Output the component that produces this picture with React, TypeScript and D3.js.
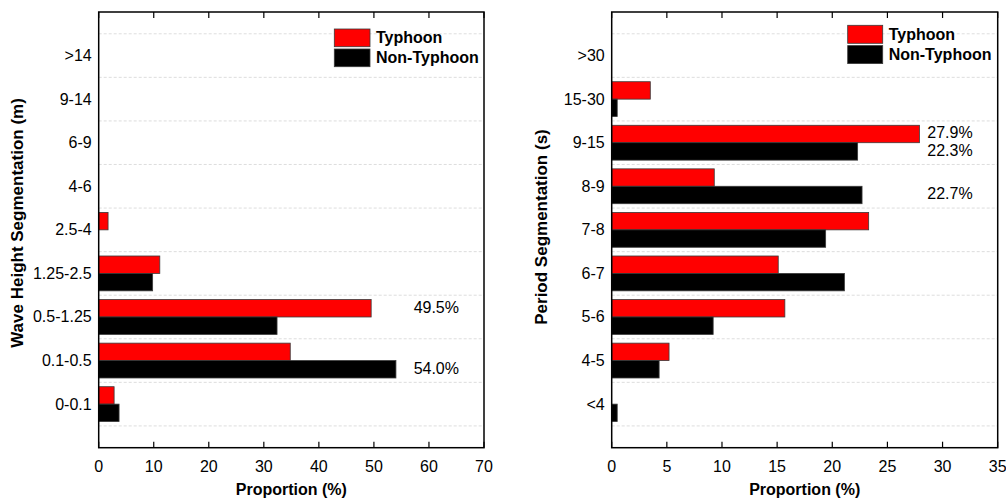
import React from "react";
import * as d3 from "d3";

// ---- Data ----
const waveCategories = [">14", "9-14", "6-9", "4-6", "2.5-4", "1.25-2.5", "0.5-1.25", "0.1-0.5", "0-0.1"];
const waveTyphoon = [0, 0, 0, 0, 1.7, 11.1, 49.5, 34.8, 2.8];
const waveNonTyphoon = [0, 0, 0, 0, 0, 9.8, 32.4, 54.0, 3.7];
const waveTicks = [0, 10, 20, 30, 40, 50, 60, 70];

const periodCategories = [">30", "15-30", "9-15", "8-9", "7-8", "6-7", "5-6", "4-5", "<4"];
const periodTyphoon = [0, 3.5, 27.9, 9.3, 23.3, 15.1, 15.7, 5.2, 0];
const periodNonTyphoon = [0, 0.5, 22.3, 22.7, 19.4, 21.1, 9.2, 4.3, 0.5];
const periodTicks = [0, 5, 10, 15, 20, 25, 30, 35];

const seriesNames = ["Typhoon", "Non-Typhoon"];
const seriesColors = ["#ff0000", "#000000"];

const waveNotes = [
  { cat: "0.5-1.25", series: 0, text: "49.5%" },
  { cat: "0.1-0.5", series: 1, text: "54.0%" },
];
const periodNotes = [
  { cat: "9-15", series: 0, text: "27.9%" },
  { cat: "9-15", series: 1, text: "22.3%" },
  { cat: "8-9", series: 1, text: "22.7%" },
];

const FONT = "'Liberation Sans', Arial, sans-serif";

type Note = { cat: string; series: number; text: string };

function Panel(props: {
  left: number; right: number; top: number; bottom: number;
  categories: string[]; typhoon: number[]; nonTyphoon: number[];
  ticks: number[]; notes: Note[]; yTitle: string; yTitleX: number; yTitleY: number;
  legendX: number; legendY: number; legendW: number; legendH: number;
}) {
  const { left, right, top, bottom, categories, typhoon, nonTyphoon, ticks, notes } = props;
  const n = categories.length;
  const x = d3.scaleLinear().domain([ticks[0], ticks[ticks.length - 1]]).range([left, right]);
  const y = d3.scaleLinear().domain([0, n + 1]).range([bottom, top]);
  const unit = Math.abs(y(0) - y(1));
  const barH = unit * 0.4;
  const catY = (i: number) => y(n - i);
  const grid = d3.range(n + 1).map((k) => k + 0.5);
  const series = [typhoon, nonTyphoon];
  const tickLen = 6;
  return (
    <g>
      {grid.map((g) => (
        <line key={"g" + g} x1={left} x2={right} y1={y(g)} y2={y(g)}
          stroke="#d4d4d4" strokeWidth={0.8} strokeDasharray="3,2" />
      ))}
      {categories.map((c, i) => (
        <g key={c}>
          {series.map((s, si) => s[i] > 0 ? (
            <rect key={si} x={x(0)} width={x(s[i]) - x(0)}
              y={catY(i) - barH + si * barH} height={barH}
              fill={seriesColors[si]} stroke="#3a3a3a" strokeWidth={0.8} />
          ) : null)}
          <text x={left - 7} y={catY(i)} textAnchor="end" dominantBaseline="central"
            fontFamily={FONT} fontSize={16} fill="#000">{c}</text>
        </g>
      ))}
      {notes.map((nt, k) => {
        const i = categories.indexOf(nt.cat);
        const yc = catY(i) - barH / 2 + nt.series * barH;
        return (
          <text key={"n" + k} x={right - 25} y={yc - 1} textAnchor="end" dominantBaseline="central"
            fontFamily={FONT} fontSize={16} fill="#000">{nt.text}</text>
        );
      })}
      {ticks.map((t) => (
        <g key={"t" + t}>
          <line x1={x(t)} x2={x(t)} y1={bottom} y2={bottom - tickLen} stroke="#000" strokeWidth={1.2} />
          <line x1={x(t)} x2={x(t)} y1={top} y2={top + tickLen} stroke="#000" strokeWidth={1.2} />
          <text x={x(t)} y={466} textAnchor="middle" dominantBaseline="central"
            fontFamily={FONT} fontSize={16} fill="#000">{t}</text>
        </g>
      ))}
      <rect x={left} y={top} width={right - left} height={bottom - top}
        fill="none" stroke="#000" strokeWidth={1.5} />
      <text x={(left + right) / 2} y={489} textAnchor="middle" dominantBaseline="central"
        fontFamily={FONT} fontSize={16} fontWeight="bold" fill="#000">Proportion (%)</text>
      <text transform={`translate(${props.yTitleX},${props.yTitleY}) rotate(-90)`}
        textAnchor="middle" dominantBaseline="central"
        fontFamily={FONT} fontSize={17} fontWeight="bold" fill="#000">{props.yTitle}</text>
      {seriesNames.map((s, si) => (
        <g key={s}>
          <rect x={props.legendX} y={props.legendY + si * (props.legendH + 2.3)}
            width={props.legendW} height={props.legendH}
            fill={seriesColors[si]} stroke="#3a3a3a" strokeWidth={0.8} />
          <text x={props.legendX + props.legendW + 6} y={props.legendY + si * (props.legendH + 2.3) + props.legendH / 2}
            dominantBaseline="central" fontFamily={FONT} fontSize={16} fontWeight="bold" fill="#000">{s}</text>
        </g>
      ))}
    </g>
  );
}

export default function App() {
  return (
    <svg width={1006} height={500} style={{ position: "absolute", left: 0, top: 0, background: "#fff" }}>
      <rect width={1006} height={500} fill="#fff" />
      <Panel left={98.7} right={484} top={12} bottom={447.7}
        categories={waveCategories} typhoon={waveTyphoon} nonTyphoon={waveNonTyphoon}
        ticks={waveTicks} notes={waveNotes} yTitle="Wave Height Segmentation (m)" yTitleX={17} yTitleY={223}
        legendX={334.3} legendY={29} legendW={35.7} legendH={17.7} />
      <Panel left={611.7} right={997.7} top={12} bottom={447.7}
        categories={periodCategories} typhoon={periodTyphoon} nonTyphoon={periodNonTyphoon}
        ticks={periodTicks} notes={periodNotes} yTitle="Period Segmentation (s)" yTitleX={541.5} yTitleY={227}
        legendX={847.7} legendY={25.3} legendW={35} legendH={18} />
    </svg>
  );
}
